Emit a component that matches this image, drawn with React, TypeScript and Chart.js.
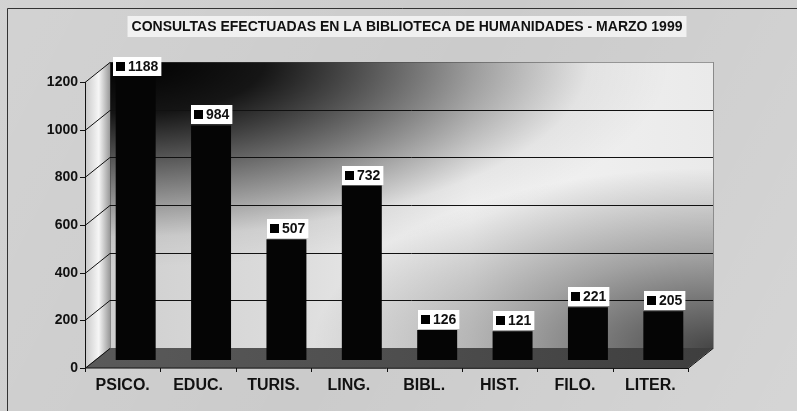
import React, { useEffect, useRef } from "react";
import { Chart, registerables } from "chart.js";

Chart.register(...registerables);

const TITLE = "CONSULTAS EFECTUADAS EN LA BIBLIOTECA DE HUMANIDADES - MARZO 1999";
const categories = ["PSICO.", "EDUC.", "TURIS.", "LING.", "BIBL.", "HIST.", "FILO.", "LITER."];
const consultas = [1188, 984, 507, 732, 126, 121, 221, 205];
const yTickValues = [0, 200, 400, 600, 800, 1000, 1200];

const FONT = "'Liberation Sans', Arial, sans-serif";
const DEPTH_X = 25;
const DEPTH_Y = -20;
const BAR_DX = 13;
const BAR_DY = -8;

const scenePlugin = {
  id: "scene3d",
  beforeDraw(chart: any) {
    const ctx = chart.ctx as CanvasRenderingContext2D;
    const { width, height } = chart;
    const area = chart.chartArea;
    const ys = chart.scales.y;
    const L = area.left, R = area.right, T = area.top, B = area.bottom;

    ctx.save();
    // page background (scanned paper look)
    ctx.fillStyle = "#cbcbcb";
    ctx.fillRect(0, 0, width, height);
    const pg = ctx.createLinearGradient(0, 0, width, height);
    pg.addColorStop(0, "rgba(255,255,255,0.15)");
    pg.addColorStop(0.5, "rgba(255,255,255,0.0)");
    pg.addColorStop(1, "rgba(255,255,255,0.2)");
    ctx.fillStyle = pg;
    ctx.fillRect(0, 0, width, height);

    // frame
    ctx.strokeStyle = "#333";
    ctx.lineWidth = 1;
    ctx.beginPath();
    ctx.moveTo(7.5, height);
    ctx.lineTo(7.5, 8.5);
    ctx.lineTo(width, 8.5);
    ctx.stroke();

    // title
    ctx.font = `bold 14px ${FONT}`;
    const tw = ctx.measureText(TITLE).width;
    const tcx = 407;
    ctx.fillStyle = "rgba(255,255,255,0.7)";
    ctx.fillRect(tcx - tw / 2 - 4, 16, tw + 8, 21);
    ctx.fillStyle = "#111";
    ctx.textAlign = "center";
    ctx.textBaseline = "middle";
    ctx.fillText(TITLE, tcx, 27);

    // back wall
    const bx0 = L + DEPTH_X, bx1 = R + DEPTH_X, by0 = T + DEPTH_Y, by1 = B + DEPTH_Y;
    const base = ctx.createLinearGradient(bx0, 0, bx1, 0);
    base.addColorStop(0, "#cfcfcf");
    base.addColorStop(0.3, "#dcdcdc");
    base.addColorStop(0.6, "#f3f3f3");
    base.addColorStop(1, "#eaeaea");
    ctx.fillStyle = base;
    ctx.fillRect(bx0, by0, bx1 - bx0, by1 - by0);

    ctx.save();
    ctx.beginPath();
    ctx.rect(bx0, by0, bx1 - bx0, by1 - by0);
    ctx.clip();
    // bottom-right darkening
    ctx.save();
    ctx.translate(bx1, by1);
    ctx.scale(1, 0.45);
    const br = ctx.createRadialGradient(0, 0, 0, 0, 0, 400);
    br.addColorStop(0, "rgba(0,0,0,0.7)");
    br.addColorStop(0.5, "rgba(0,0,0,0.32)");
    br.addColorStop(1, "rgba(0,0,0,0)");
    ctx.fillStyle = br;
    ctx.fillRect(-800, -1000, 1600, 2000);
    ctx.restore();
    // top-left dark area
    ctx.save();
    ctx.translate(bx0 + 20, by0);
    ctx.scale(1, 0.38);
    const tl = ctx.createRadialGradient(0, 0, 0, 0, 0, 540);
    tl.addColorStop(0, "rgba(0,0,0,1)");
    tl.addColorStop(0.25, "rgba(0,0,0,0.9)");
    tl.addColorStop(0.55, "rgba(0,0,0,0.48)");
    tl.addColorStop(0.85, "rgba(0,0,0,0.05)");
    tl.addColorStop(1, "rgba(0,0,0,0)");
    ctx.fillStyle = tl;
    ctx.fillRect(-800, -1000, 1800, 2400);
    ctx.restore();
    ctx.restore();

    // back wall border (dotted)
    ctx.strokeStyle = "#444";
    ctx.setLineDash([1, 1]);
    ctx.strokeRect(bx0 + 0.5, by0 + 0.5, bx1 - bx0, by1 - by0);
    ctx.setLineDash([]);

    // gridlines on back wall
    ctx.strokeStyle = "#111";
    ctx.lineWidth = 1;
    for (const v of yTickValues) {
      if (v === 0 || v === 1200) continue;
      const y = Math.round(ys.getPixelForValue(v) + DEPTH_Y) + 0.5;
      ctx.beginPath();
      ctx.moveTo(bx0, y);
      ctx.lineTo(bx1, y);
      ctx.stroke();
    }

    // left side wall
    const lw = ctx.createLinearGradient(L, 0, bx0, 0);
    lw.addColorStop(0, "#c8c8c8");
    lw.addColorStop(0.55, "#f6f6f6");
    lw.addColorStop(1, "#9a9a9a");
    ctx.fillStyle = lw;
    ctx.beginPath();
    ctx.moveTo(L, B);
    ctx.lineTo(L, T);
    ctx.lineTo(bx0, by0);
    ctx.lineTo(bx0, by1);
    ctx.closePath();
    ctx.fill();

    // floor
    const fl = ctx.createLinearGradient(L, 0, bx1, 0);
    fl.addColorStop(0, "#5a5a5a");
    fl.addColorStop(0.5, "#4e4e4e");
    fl.addColorStop(1, "#3e3e3e");
    ctx.fillStyle = fl;
    ctx.beginPath();
    ctx.moveTo(L, B);
    ctx.lineTo(R, B);
    ctx.lineTo(bx1, by1);
    ctx.lineTo(bx0, by1);
    ctx.closePath();
    ctx.fill();

    // axis lines
    ctx.strokeStyle = "#111";
    ctx.lineWidth = 1;
    ctx.beginPath();
    ctx.moveTo(L + 0.5, T);
    ctx.lineTo(L + 0.5, B);
    ctx.lineTo(R, B + 0.5);
    ctx.lineTo(bx1, by1 + 0.5);
    ctx.stroke();
    // y ticks + diagonals
    for (const v of yTickValues) {
      const y = Math.round(ys.getPixelForValue(v)) + 0.5;
      ctx.beginPath();
      ctx.moveTo(L - 5, y);
      ctx.lineTo(L, y);
      ctx.lineTo(bx0, y + DEPTH_Y);
      ctx.stroke();
    }
    // x boundary ticks
    const xs = chart.scales.x;
    const cw = (R - L) / categories.length;
    for (let k = 0; k <= categories.length; k++) {
      const x = Math.round(xs.getPixelForValue(0) - cw / 2 + cw * k) + 0.5;
      ctx.beginPath();
      ctx.moveTo(x, B);
      ctx.lineTo(x, B + 4);
      ctx.stroke();
    }
    ctx.restore();
  },
  beforeDatasetsDraw(chart: any) {
    chart.ctx.save();
    chart.ctx.translate(BAR_DX, BAR_DY);
  },
  afterDatasetsDraw(chart: any) {
    const ctx = chart.ctx as CanvasRenderingContext2D;
    ctx.restore();
    const meta = chart.getDatasetMeta(0);
    ctx.save();
    ctx.font = `bold 14px ${FONT}`;
    ctx.textBaseline = "middle";
    ctx.textAlign = "left";
    meta.data.forEach((el: any, i: number) => {
      const label = String(consultas[i]);
      const tw = ctx.measureText(label).width;
      const sq = 9;
      const w = 3 + sq + 3 + tw + 3;
      const h = 19;
      const cx = el.x + BAR_DX + 1;
      const top = el.y + BAR_DY;
      const x0 = Math.round(cx - w / 2);
      const y0 = Math.round(top - 1 - h);
      ctx.fillStyle = "#ffffff";
      ctx.fillRect(x0, y0, w, h);
      ctx.fillStyle = "#000";
      ctx.fillRect(x0 + 3, Math.round(y0 + h / 2 - sq / 2), sq, sq);
      ctx.fillStyle = "#111";
      ctx.fillText(label, x0 + 3 + sq + 3, y0 + h / 2 + 1);
    });
    ctx.restore();
  },
};

export default function App() {
  const ref = useRef<HTMLCanvasElement | null>(null);
  useEffect(() => {
    if (!ref.current) return;
    const chart = new Chart(ref.current, {
      type: "bar",
      data: {
        labels: categories,
        datasets: [
          {
            label: "Consultas",
            data: consultas,
            backgroundColor: "#050505",
            borderWidth: 0,
            barPercentage: 0.53,
            categoryPercentage: 1,
            clip: false as any,
          },
        ],
      },
      options: {
        responsive: false,
        animation: false,
        devicePixelRatio: 1,
        layout: { padding: { top: 82, left: 0, right: 109, bottom: 0 } },
        plugins: {
          legend: { display: false },
          title: { display: false },
          tooltip: { enabled: false },
        },
        scales: {
          x: {
            grid: { display: false, drawTicks: false },
            border: { display: false },
            ticks: {
              color: "#111",
              font: { family: FONT, size: 16, weight: "bold" },
              padding: 8,
              maxRotation: 0,
              autoSkip: false,
            },
            afterFit: (s: any) => {
              s.height = 43;
            },
          },
          y: {
            min: 0,
            max: 1200,
            grid: { display: false, drawTicks: false },
            border: { display: false },
            ticks: {
              stepSize: 200,
              color: "#111",
              font: { family: FONT, size: 14, weight: "bold" },
              padding: 7,
              callback: (v: any) => String(v),
            },
            afterFit: (s: any) => {
              s.width = 85;
            },
          },
        },
      },
      plugins: [scenePlugin],
    });
    return () => chart.destroy();
  }, []);
  return (
    <div style={{ position: "fixed", left: 0, top: 0, width: 797, height: 411 }}>
      <canvas ref={ref} width={797} height={411} style={{ display: "block" }} />
    </div>
  );
}
